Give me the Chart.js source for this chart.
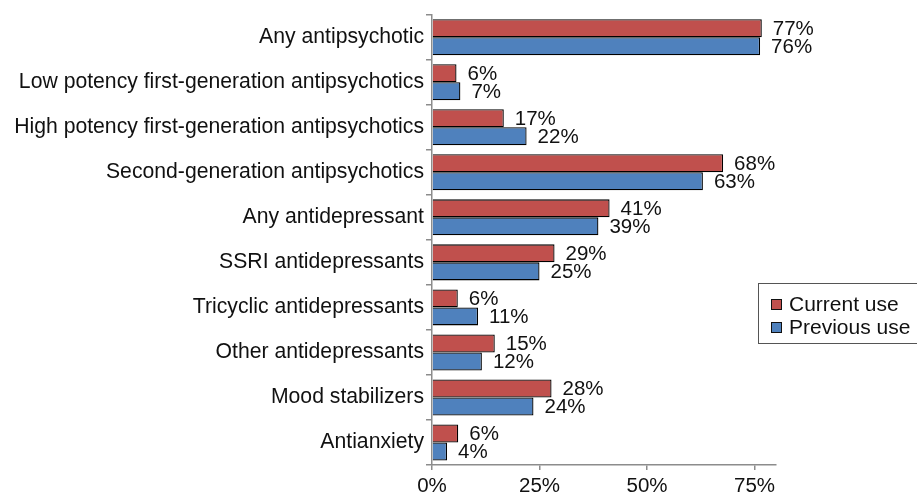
<!DOCTYPE html>
<html>
<head>
<meta charset="utf-8">
<script src="https://cdn.jsdelivr.net/npm/chart.js@4/dist/chart.umd.min.js"></script>
<style>
  html, body { margin: 0; padding: 0; background: #fff; }
  #wrap { width: 917px; height: 495px; }
</style>
</head>
<body>
<div id="wrap"><canvas id="chart"></canvas></div>
<script>
// datos (porcentaje de pacientes)
const categories = [
    'Any antipsychotic',
    'Low potency first-generation antipsychotics',
    'High potency first-generation antipsychotics',
    'Second-generation antipsychotics',
    'Any antidepressant',
    'SSRI antidepressants',
    'Tricyclic antidepressants',
    'Other antidepressants',
    'Mood stabilizers',
    'Antianxiety'
];
const currentUse = [76.7, 5.7, 16.7, 67.7, 41.3, 28.5, 6.0, 14.6, 27.8, 6.1];
const previousUse = [76.3, 6.6, 22.0, 63.0, 38.7, 25.0, 10.7, 11.6, 23.6, 3.5];
const xTicks = [0, 25, 50, 75];

const FONT = "'Liberation Sans', Arial, sans-serif";
const axisGray = '#8c8c8c';

// etiquetas de valor a la derecha de cada barra
const valueLabels = {
    id: 'valueLabels',
    afterDatasetsDraw(chart) {
        const ctx = chart.ctx;
        ctx.save();
        ctx.font = '20.5px ' + FONT;
        ctx.fillStyle = '#111';
        ctx.textBaseline = 'middle';
        ctx.textAlign = 'left';
        chart.data.datasets.forEach((ds, i) => {
            chart.getDatasetMeta(i).data.forEach((bar, j) => {
                ctx.fillText(Math.round(ds.data[j]) + '%', bar.x + 11, bar.y + 1);
            });
        });
        ctx.restore();
    }
};

// leyenda con recuadro encima del area del grafico
const boxLegend = {
    id: 'boxLegend',
    afterDraw(chart) {
        const ctx = chart.ctx;
        const x = 758, y = 283, w = 170, h = 60;
        ctx.save();
        ctx.fillStyle = '#fff';
        ctx.fillRect(x, y, w, h);
        ctx.strokeStyle = '#555';
        ctx.lineWidth = 1;
        ctx.strokeRect(x + 0.5, y + 0.5, w, h);
        ctx.font = '21px ' + FONT;
        ctx.textBaseline = 'middle';
        chart.data.datasets.forEach((ds, i) => {
            const cy = y + 21 + i * 23;
            ctx.fillStyle = ds.backgroundColor;
            ctx.fillRect(x + 13, cy - 5, 11, 11);
            ctx.strokeStyle = '#111';
            ctx.strokeRect(x + 13.5, cy - 4.5, 10, 10);
            ctx.fillStyle = '#111';
            ctx.fillText(ds.label, x + 31, cy + 1);
        });
        ctx.restore();
    }
};

new Chart(document.getElementById('chart'), {
    type: 'bar',
    data: {
        labels: categories,
        datasets: [{
            label: 'Current use',
            data: currentUse,
            backgroundColor: '#c0504d',
            borderColor: '#000',
            borderWidth: 1.3,
            categoryPercentage: 0.8,
            barPercentage: 1.0
        }, {
            label: 'Previous use',
            data: previousUse,
            backgroundColor: '#4f81bd',
            borderColor: '#000',
            borderWidth: 1.3,
            categoryPercentage: 0.8,
            barPercentage: 1.0
        }]
    },
    options: {
        indexAxis: 'y',
        responsive: true,
        maintainAspectRatio: false,
        animation: false,
        layout: { padding: { top: 14, right: 141, bottom: 0, left: 0 } },
        plugins: { legend: { display: false }, tooltip: { enabled: false } },
        scales: {
            x: {
                min: 0,
                max: 80,
                afterBuildTicks: scale => { scale.ticks = xTicks.map(v => ({ value: v })); },
                afterFit: scale => { scale.height = 30; },
                ticks: {
                    callback: v => v + '%',
                    color: '#111',
                    font: { family: FONT, size: 20.5 },
                    padding: 4,
                    maxRotation: 0
                },
                grid: { display: true, drawOnChartArea: false, drawTicks: true, tickLength: 5, color: axisGray, lineWidth: 1.5 },
                border: { display: true, color: axisGray, width: 1.5 }
            },
            y: {
                afterFit: scale => { scale.width = 432; },
                ticks: {
                    color: '#111',
                    font: { family: FONT, size: 21.2 },
                    padding: 2,
                    autoSkip: false
                },
                grid: { display: true, offset: true, drawOnChartArea: false, drawTicks: true, tickLength: 6, color: axisGray, lineWidth: 1.5 },
                border: { display: true, color: axisGray, width: 1.5 }
            }
        }
    },
    plugins: [valueLabels, boxLegend]
});
</script>
</body>
</html>
